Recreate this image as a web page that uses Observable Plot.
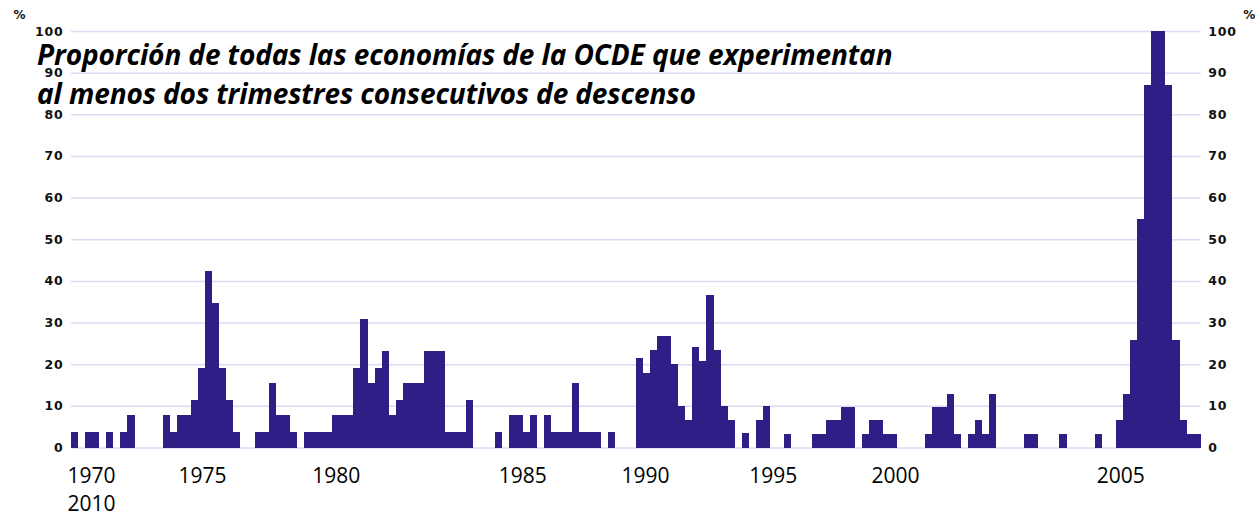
<!DOCTYPE html>
<html>
<head>
<meta charset="utf-8">
<script src="https://cdn.jsdelivr.net/npm/d3@7"></script>
<script src="https://cdn.jsdelivr.net/npm/@observablehq/plot@0.6"></script>
<style>
html, body { margin: 0; padding: 0; background: #ffffff; }
#wrap { position: relative; width: 1255px; height: 513px; overflow: hidden; }
#title {
  position: absolute; left: 37px; top: 35px;
  font-family: "Open Sans", sans-serif; font-weight: 700; font-style: italic;
  font-size: 28px; line-height: 38.5px; color: #000; pointer-events: none; white-space: nowrap;
  letter-spacing: -0.1px;
}
#chart g[aria-label="y-axis tick label"] text { letter-spacing: 0.8px; }
</style>
</head>
<body>
<div id="wrap">
  <div id="chart"></div>
  <div id="title">Proporción de todas las economías de la OCDE que experimentan<br>al menos dos trimestres consecutivos de descenso</div>
</div>
<script>
// Share (%) of OECD economies with at least two consecutive quarters of decline, one value per quarter
const quarterShare = [
  3.8, 0, 3.8, 3.8, 0, 3.8, 0, 3.8, 7.7, 0,
  0, 0, 0, 7.7, 3.8, 7.7, 7.7, 11.5, 19.2, 42.3,
  34.6, 19.2, 11.5, 3.8, 0, 0, 3.8, 3.8, 15.4, 7.7,
  7.7, 3.8, 0, 3.8, 3.8, 3.8, 3.8, 7.7, 7.7, 7.7,
  19.2, 30.8, 15.4, 19.2, 23.1, 7.7, 11.5, 15.4, 15.4, 15.4,
  23.1, 23.1, 23.1, 3.8, 3.8, 3.8, 11.5, 0, 0, 0,
  3.8, 0, 7.7, 7.7, 3.8, 7.7, 0, 7.7, 3.8, 3.8,
  3.8, 15.4, 3.8, 3.8, 3.8, 0, 3.8, 0, 0, 0,
  21.4, 17.9, 23.3, 26.7, 26.7, 20, 10, 6.7, 24.1, 20.7,
  36.7, 23.3, 10, 6.7, 0, 3.4, 0, 6.7, 10, 0,
  0, 3.3, 0, 0, 0, 3.2, 3.2, 6.5, 6.5, 9.7,
  9.7, 0, 3.2, 6.5, 6.5, 3.2, 3.2, 0, 0, 0,
  0, 3.2, 9.7, 9.7, 12.9, 3.2, 0, 3.2, 6.5, 3.2,
  12.9, 0, 0, 0, 0, 3.2, 3.2, 0, 0, 0,
  3.2, 0, 0, 0, 0, 3.2, 0, 0, 6.5, 12.9,
  25.8, 54.8, 87.1, 100, 100, 87.1, 25.8, 6.5, 3.2, 3.2
];
const yTicks = [0, 10, 20, 30, 40, 50, 60, 70, 80, 90, 100];
const xTickLabels = ["1970\n2010", "1975", "1980", "1985", "1990", "1995", "2000", "2005"];
const unitLabel = "%";

// layout: where the year labels sit along the quarter axis in the reference
const labelQuarter = [2.83, 18.55, 37.5, 63.9, 81.3, 99.4, 116.7, 148.6];
const labelFor = new Map(labelQuarter.map((q, i) => [q, xTickLabels[i]]));

const bars = quarterShare
  .map((v, i) => ({q0: i, q1: i + 1, v}))
  .filter(d => d.v > 0);

const barColor = "#2e1f86";
const gridColor = "#dddaf3";
const axisFont = "DejaVu Sans";

const chart = Plot.plot({
  width: 1255,
  height: 513,
  marginTop: 31,
  marginBottom: 65.5,
  marginLeft: 71,
  marginRight: 54.3,
  style: {background: "transparent", overflow: "visible"},
  x: {domain: [0, quarterShare.length], axis: null},
  y: {domain: [0, 100], axis: null},
  marks: [
    Plot.gridY(yTicks, {stroke: gridColor, strokeOpacity: 1, strokeWidth: 1.5}),
    Plot.rectY(bars, {x1: "q0", x2: "q1", y: "v", fill: barColor, inset: 0, shapeRendering: "crispEdges"}),
    Plot.axisY({anchor: "left", ticks: yTicks, tickSize: 0, tickPadding: 8, label: null,
      fontFamily: axisFont, fontWeight: "bold", fontSize: 12.5, fill: "#111"}),
    Plot.axisY({anchor: "right", ticks: yTicks, tickSize: 0, tickPadding: 7, label: null,
      fontFamily: axisFont, fontWeight: "bold", fontSize: 12.5, fill: "#111"}),
    Plot.axisX({ticks: labelQuarter, tickFormat: d => labelFor.get(d), tickSize: 0, tickPadding: 16,
      label: null, fontFamily: "Open Sans", fontSize: 21, lineHeight: 1.3, fill: "#000"}),
    Plot.text([unitLabel], {frameAnchor: "top-left", dx: -58, dy: -21, textAnchor: "start",
      fontFamily: axisFont, fontWeight: "bold", fontSize: 12, fill: "#111"}),
    Plot.text([unitLabel], {frameAnchor: "top-right", dx: 42, dy: -21, textAnchor: "start",
      fontFamily: axisFont, fontWeight: "bold", fontSize: 12, fill: "#111"})
  ]
});
document.getElementById("chart").appendChild(chart);
</script>
</body>
</html>
